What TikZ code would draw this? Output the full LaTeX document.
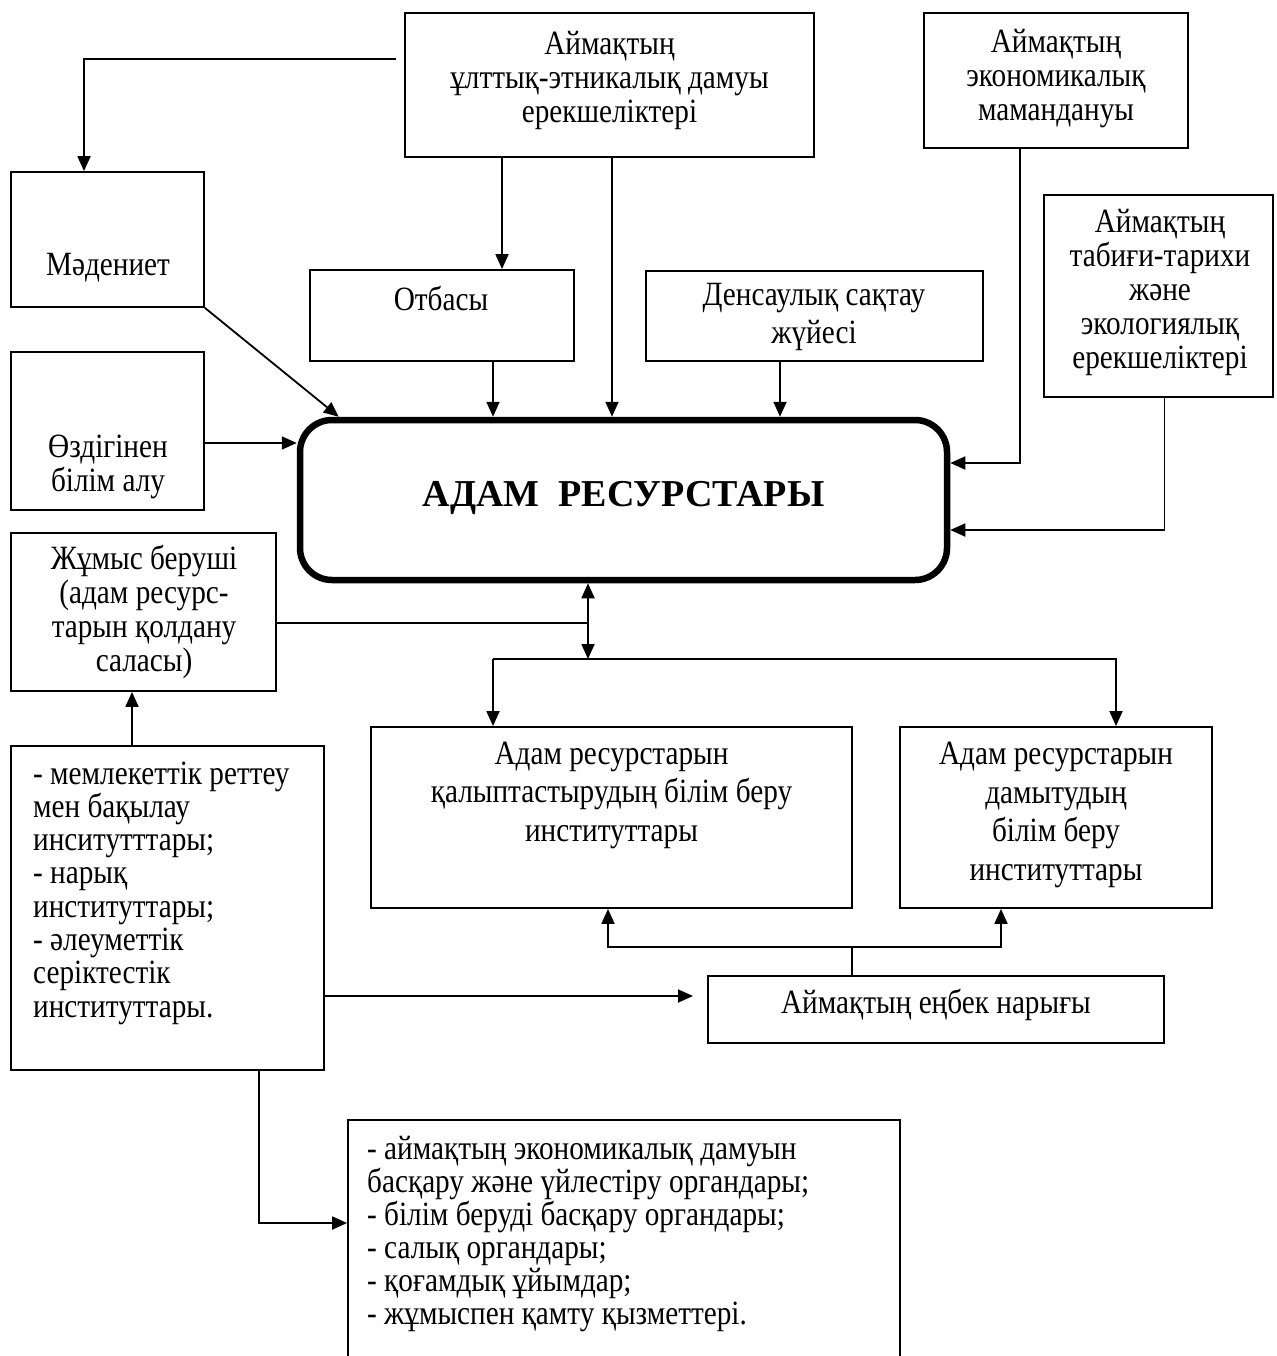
\documentclass[tikz,border=0pt]{standalone}
\usepackage{fontspec}
\setmainfont{Liberation Serif}[FakeStretch=0.86]
\newfontfamily\titlefont{Liberation Serif}
\newcommand\myfixls{\lineskiplimit=-50pt\relax}
\usetikzlibrary{arrows.meta,calc}
\begin{document}
\begin{tikzpicture}[x=1pt,y=-1pt,
  every node/.style={font=\fontsize{34}{34}\selectfont\myfixls},
  box/.style={draw,line width=1.8pt,inner sep=0pt},
  lbl/.style={align=center,inner sep=0pt},
  lbll/.style={align=left,inner sep=0pt,anchor=west},
  wide/.style={font=\fontsize{34}{38.5}\selectfont\myfixls},
  con/.style={line width=1.8pt},
  arr/.style={con,-{Triangle[length=15pt,width=13pt]}},
  darr/.style={con,{Triangle[length=15pt,width=13pt]}-{Triangle[length=15pt,width=13pt]}}]
\useasboundingbox (0,0) rectangle (1276,1356);
\clip (0,0) rectangle (1276,1356);
% boxes
\node[box,minimum width=409pt,minimum height=144pt] (T) at (609.5,85) {};
\node[box,minimum width=264pt,minimum height=135pt] (E) at (1056,80.5) {};
\node[box,minimum width=229pt,minimum height=202pt] (N) at (1158.5,296) {};
\node[box,minimum width=193pt,minimum height=135pt] (M) at (107.5,239.5) {};
\node[box,minimum width=193pt,minimum height=158pt] (O) at (107.5,431) {};
\node[box,minimum width=264pt,minimum height=91pt] (F) at (442,315.5) {};
\node[box,minimum width=337pt,minimum height=90pt] (D) at (814.5,316) {};
\node[box,line width=6.5pt,rounded corners=32pt,minimum width=647pt,minimum height=160pt] (R) at (623.5,500) {};
\node[box,minimum width=265pt,minimum height=158pt] (J) at (143.5,612) {};
\node[box,minimum width=481pt,minimum height=181pt] (A1) at (611.5,817.5) {};
\node[box,minimum width=312pt,minimum height=181pt] (A2) at (1056,817.5) {};
\node[box,minimum width=313pt,minimum height=324pt] (G) at (167.5,908) {};
\node[box,minimum width=456pt,minimum height=67pt] (L) at (936,1009.5) {};
\node[box,minimum width=552pt,minimum height=280pt] (B) at (624,1260) {};
% texts
\node[lbl] (Tt) at (609.5,80) {Аймақтың\\ұлттық-этникалық дамуы\\ерекшеліктері};
\node[lbl] (Et) at (1056,79) {Аймақтың\\экономикалық\\мамандануы};
\node[lbl] (Nt) at (1160,292) {Аймақтың\\табиғи-тарихи\\және\\экологиялық\\ерекшеліктері};
\node[lbl] (Mt) at (108,268) {Мәдениет};
\node[lbl] (Ot) at (108,467) {Өздігінен\\білім алу};
\node[lbl] (Ft) at (441,298) {Отбасы};
\node[lbl,wide] (Dt) at (814,317) {Денсаулық сақтау\\жүйесі};
\node[lbl,font=\fontsize{38}{44}\titlefont\bfseries] (Rt) at (623.5,498) {АДАМ~~РЕСУРСТАРЫ};
\node[lbl] (Jt) at (144,612) {Жұмыс беруші\\(адам ресурс-\\тарын қолдану\\саласы)};
\node[lbl,wide] (A1t) at (611.5,795) {Адам ресурстарын\\қалыптастырудың білім беру\\институттары};
\node[lbl,wide] (A2t) at (1056,815) {Адам ресурстарын\\дамытудың\\білім беру\\институттары};
\node[lbll,font=\fontsize{34}{33.3}\selectfont\myfixls] (Gt) at (33,893) {- мемлекеттік реттеу\\мен бақылау\\инситутттары;\\- нарық\\институттары;\\- әлеуметтік\\серіктестік\\институттары.};
\node[lbl] (Lt) at (936,1005) {Аймақтың еңбек нарығы};
\node[lbll,font=\fontsize{34}{33}\selectfont\myfixls] (Bt) at (367,1234.5) {- аймақтың экономикалық дамуын\\басқару және үйлестіру органдары;\\- білім беруді басқару органдары;\\- салық органдары;\\- қоғамдық ұйымдар;\\- жұмыспен қамту қызметтері.};
% connectors
\coordinate (tm) at (396,59);
\draw[arr] (tm) -| ([xshift=-23.5pt]M.north);
\draw[arr] ([xshift=-107.5pt]T.south) -- ([xshift=-107.5pt]T.south |- F.north);
\draw[arr] ([xshift=2.5pt]T.south) -- ([xshift=2.5pt]T.south |- R.north);
\draw[arr] ([xshift=51pt]F.south) -- ([xshift=51pt]F.south |- R.north);
\draw[arr] ([xshift=-34.5pt]D.south) -- ([xshift=-34.5pt]D.south |- R.north);
\draw[arr] (M.south east) -- ([xshift=42pt]R.north west);
\draw[arr] ([yshift=-12pt]O.east) -- ([yshift=-12pt]O.east -| R.west);
\draw[arr] ([xshift=-36pt]E.south) |- ([yshift=37pt]R.east);
\draw[arr] ([xshift=6pt]N.south) |- ([yshift=-30pt]R.east);
\coordinate (bus) at (588,659);
\draw[darr] ([xshift=-35.5pt]R.south) -- (bus);
\draw[con] ([yshift=-11pt]J.east) -- ([yshift=-11pt]J.east -| bus);
\draw[arr] ([xshift=-118.5pt]A1.north |- bus) -- ([xshift=-118.5pt]A1.north);
\draw[arr] ([xshift=-118.5pt]A1.north |- bus) -| ([xshift=60pt]A2.north);
\draw[arr] ([xshift=-35.5pt]G.north) -- ([xshift=-35.5pt]G.north |- J.south);
\coordinate (lm) at (693,996);
\draw[arr] ([yshift=-88pt]G.east) -- (lm);
\coordinate (lb) at (852,947);
\draw[con] ([xshift=-84pt]L.north) -- (lb);
\draw[arr] (lb) -| ([xshift=-3.5pt]A1.south);
\draw[arr] (lb) -| ([xshift=-55pt]A2.south);
\draw[arr] ([xshift=91.5pt]G.south) |- ([yshift=37pt]B.west);
\end{tikzpicture}
\end{document}
